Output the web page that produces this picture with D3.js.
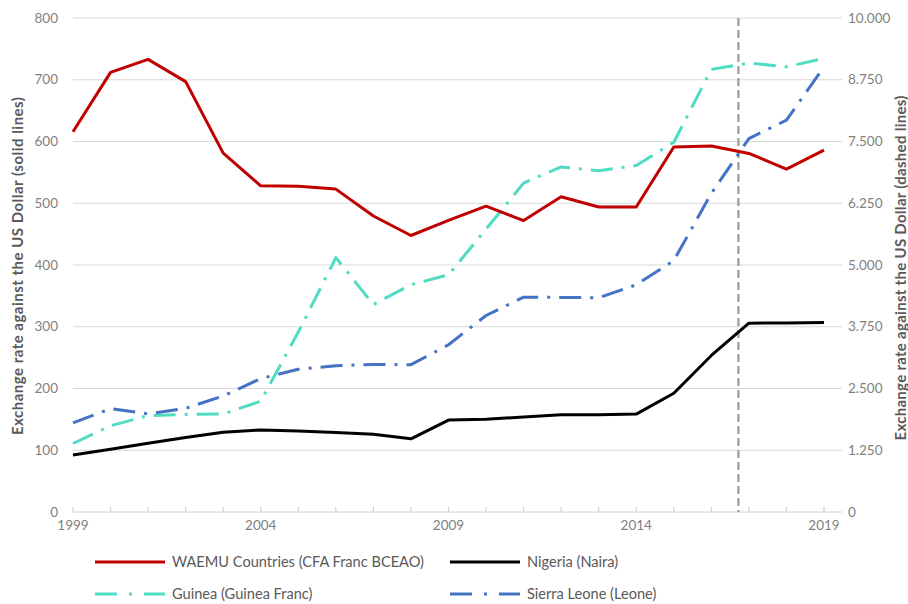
<!DOCTYPE html>
<html>
<head>
<meta charset="utf-8">
<script src="https://cdn.jsdelivr.net/npm/d3@7/dist/d3.min.js"></script>
<style>
  html, body { margin: 0; padding: 0; background: #fff; }
  svg { display: block; }
  text { font-family: Lato, "Open Sans", sans-serif; }
</style>
</head>
<body>
<svg id="chart" width="908" height="604"></svg>
<script>
// ---- data ----
const years = d3.range(1999, 2020);
const waemu = [615.7, 712.0, 733.0, 697.0, 581.2, 528.3, 527.5, 522.9, 479.3, 447.8, 472.2, 495.3, 471.9, 510.5, 493.9, 493.8, 591.2, 592.7, 580.7, 555.4, 585.9];
const nigeria = [92.3, 101.7, 111.2, 120.6, 129.2, 132.9, 131.3, 128.7, 125.8, 118.5, 148.9, 150.3, 153.9, 157.5, 157.3, 158.6, 192.4, 253.5, 305.8, 306.1, 306.9];
const guinea = [1387, 1746, 1951, 1976, 1984, 2243, 3644, 5149, 4198, 4602, 4801, 5726, 6658, 6985, 6908, 7014, 7485, 8960, 9088, 9011, 9183];
const sierraLeone = [1804, 2092, 1986, 2099, 2348, 2701, 2889, 2962, 2985, 2982, 3386, 3978, 4349, 4344, 4337, 4600, 5090, 6450, 7560, 7932, 9011];
const leftTicks = [0, 100, 200, 300, 400, 500, 600, 700, 800];
const rightTicks = [0, 1250, 2500, 3750, 5000, 6250, 7500, 8750, 10000];
const rightTickLabels = ["0", "1.250", "2.500", "3.750", "5.000", "6.250", "7.500", "8.750", "10.000"];
const xLabelYears = [1999, 2004, 2009, 2014, 2019];
const markerYear = 2016.72;
const leftTitle = "Exchange rate against the US Dollar (solid lines)";
const rightTitle = "Exchange rate against the US Dollar (dashed lines)";

const series = [
  { name: "WAEMU Countries (CFA Franc BCEAO)", values: waemu, axis: "left", color: "#c00000", dash: null },
  { name: "Nigeria (Naira)", values: nigeria, axis: "left", color: "#000000", dash: null },
  { name: "Guinea (Guinea Franc)", values: guinea, axis: "right", color: "#4fdcc2", dash: "22,9,3,9" },
  { name: "Sierra Leone (Leone)", values: sierraLeone, axis: "right", color: "#4472c4", dash: "22,9,3,9" }
];

// ---- layout ----
const svg = d3.select("#chart");
const plotLeft = 73, plotRight = 842, plotTop = 18, plotBottom = 512;

const x = d3.scaleLinear().domain([1999, 2019]).range([73, 824]);
const yL = d3.scaleLinear().domain([0, 800]).range([plotBottom, plotTop]);
const yR = d3.scaleLinear().domain([0, 10000]).range([plotBottom, plotTop]);

// gridlines
svg.append("g").selectAll("line").data(leftTicks.slice(1)).join("line")
  .attr("x1", plotLeft).attr("x2", plotRight)
  .attr("y1", d => yL(d)).attr("y2", d => yL(d))
  .attr("stroke", "#d9d9d9").attr("stroke-width", 1);

// x axis line & ticks
svg.append("line").attr("x1", plotLeft).attr("x2", plotRight)
  .attr("y1", plotBottom).attr("y2", plotBottom)
  .attr("stroke", "#d0d0d0").attr("stroke-width", 1.2);
svg.append("g").selectAll("line").data(years).join("line")
  .attr("x1", d => x(d)).attr("x2", d => x(d))
  .attr("y1", plotBottom).attr("y2", plotBottom - 5)
  .attr("stroke", "#d0d0d0").attr("stroke-width", 1.2);

// x labels
svg.append("g").selectAll("text").data(xLabelYears).join("text")
  .attr("x", d => x(d)).attr("y", 530)
  .attr("text-anchor", "middle").attr("font-size", 13.5).attr("fill", "#7f7f7f")
  .text(d => d);

// left ticks
svg.append("g").selectAll("text").data(leftTicks).join("text")
  .attr("x", 58).attr("y", d => yL(d) + 4.5)
  .attr("text-anchor", "end").attr("font-size", 13.5).attr("fill", "#7f7f7f")
  .text(d => d);

// right ticks
svg.append("g").selectAll("text").data(rightTicks).join("text")
  .attr("x", 848).attr("y", d => yR(d) + 4.5)
  .attr("text-anchor", "start").attr("font-size", 13.5).attr("fill", "#7f7f7f")
  .text((d, i) => rightTickLabels[i]);

// axis titles
svg.append("text")
  .attr("transform", "translate(22.5,266) rotate(-90)")
  .attr("text-anchor", "middle").attr("font-size", 15).attr("font-weight", "bold").attr("fill", "#595959")
  .attr("textLength", 338).attr("lengthAdjust", "spacing")
  .text(leftTitle);
svg.append("text")
  .attr("transform", "translate(906,268) rotate(-90)")
  .attr("text-anchor", "middle").attr("font-size", 15).attr("font-weight", "bold").attr("fill", "#595959")
  .attr("textLength", 345).attr("lengthAdjust", "spacing")
  .text(rightTitle);

// vertical marker
svg.append("line")
  .attr("x1", x(markerYear)).attr("x2", x(markerYear))
  .attr("y1", plotTop).attr("y2", plotBottom)
  .attr("stroke", "#a6a6a6").attr("stroke-width", 2.5).attr("stroke-dasharray", "8,4");

// lines
const drawOrder = [2, 3, 1, 0];
drawOrder.forEach(i => {
  const s = series[i];
  const yS = s.axis === "left" ? yL : yR;
  const line = d3.line().x((d, j) => x(years[j])).y(d => yS(d));
  svg.append("path").datum(s.values)
    .attr("d", line).attr("fill", "none")
    .attr("stroke", s.color).attr("stroke-width", 3)
    .attr("stroke-linejoin", "round")
    .attr("stroke-dasharray", s.dash);
});

// legend
const legendPos = [
  { x: 95, y: 562 }, { x: 450, y: 562 },
  { x: 95, y: 594 }, { x: 450, y: 594 }
];
series.forEach((s, i) => {
  const p = legendPos[i];
  svg.append("line").attr("x1", p.x).attr("x2", p.x + 70)
    .attr("y1", p.y).attr("y2", p.y)
    .attr("stroke", s.color).attr("stroke-width", 3)
    .attr("stroke-dasharray", s.dash ? "22,12,3,12" : null);
  svg.append("text").attr("x", p.x + 77).attr("y", p.y + 5)
    .attr("font-size", 14.6).attr("fill", "#595959").text(s.name);
});
</script>
</body>
</html>
